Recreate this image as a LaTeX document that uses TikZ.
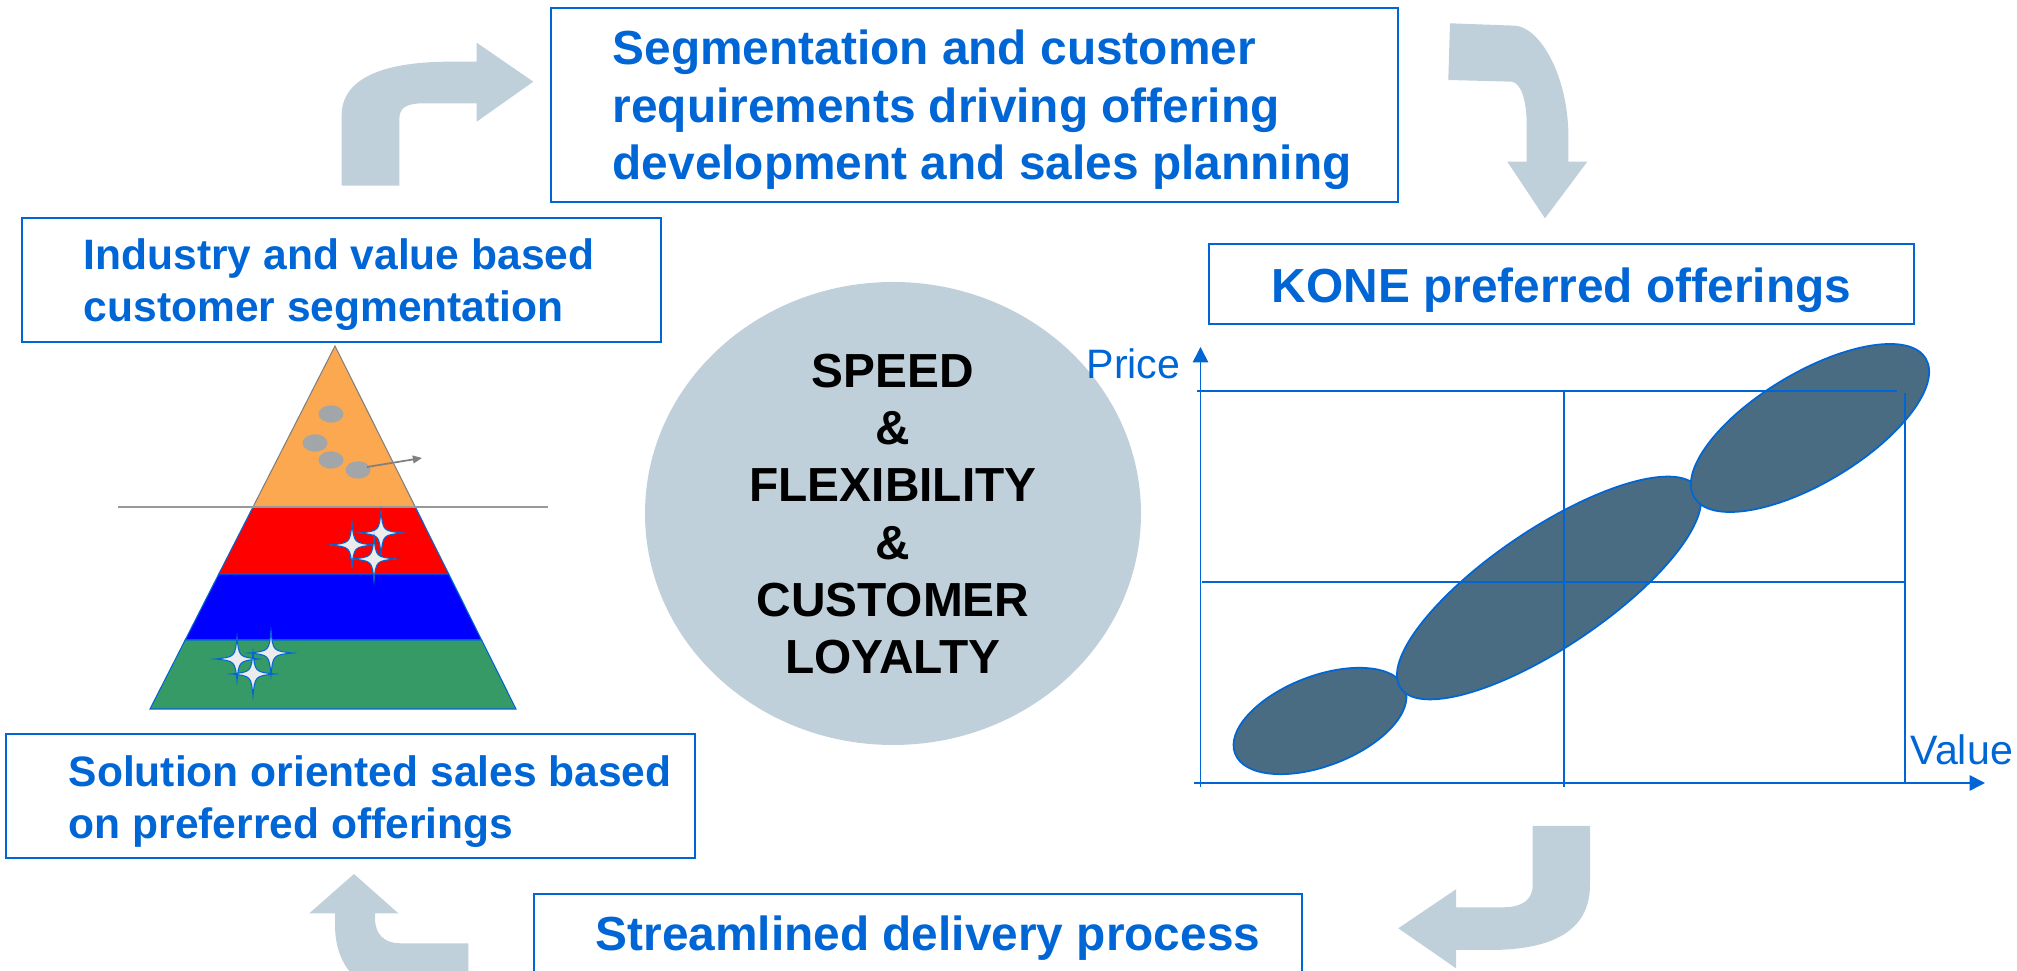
\documentclass[tikz,border=0pt]{standalone}
\usepackage{fontspec}
\setmainfont{Liberation Sans}
\usetikzlibrary{arrows.meta}

\definecolor{koneblue}{RGB}{0,102,214}
\definecolor{flowgray}{RGB}{191,208,219}
\definecolor{blobfill}{RGB}{74,108,130}
\definecolor{tierorange}{RGB}{251,168,80}
\definecolor{tiergreen}{RGB}{54,154,102}
\definecolor{dotgray}{RGB}{162,166,168}
\definecolor{sparkle}{RGB}{236,236,236}

\tikzset{
    frame/.style={draw=koneblue, line width=0.5pt},
    heading/.style={text=koneblue, inner sep=0pt, align=left,
        font=\fontsize{13.6}{16.3}\selectfont\bfseries},
    subheading/.style={text=koneblue, inner sep=0pt, align=left,
        font=\fontsize{12.1}{14.8}\selectfont\bfseries},
    axislabel/.style={text=koneblue, inner sep=0pt,
        font=\fontsize{11.7}{14}\selectfont},
    gridline/.style={draw=koneblue, line width=0.45pt},
    blob/.style={fill=blobfill, draw=koneblue, line width=0.5pt},
    turn/.style={fill=flowgray},
    band/.style={draw=koneblue, line width=0.3pt},
}

\begin{document}
\begin{tikzpicture}[x=0.01cm, y=-0.01cm]

            \useasboundingbox (0,0) rectangle (2017,971);
            \clip (0,0) rectangle (2017,971);

            \def\Rs{22};
            \def\Ytop{507};
            \def\Ybase{709};

            % turning arrows
            \fill[turn] (341.7,185.7) -- (341.7,115)
            .. controls (341.7,80) and (380,61.7) .. (450,61.7)
            -- (476.7,61.7) -- (476.7,42.7) -- (533.3,81.7) -- (476.7,121.7) -- (476.7,103.3)
            -- (425,103.3) .. controls (405,103.3) and (399.3,108) .. (399.3,120)
            -- (399.3,185.7) -- cycle;

            \fill[turn] (1450,23.3) -- (1515,25.7)
            .. controls (1538,27) and (1566,70) .. (1568.3,130)
            -- (1568.3,161.7) -- (1587.3,161.7) -- (1545,218.3) -- (1507.3,161.7) -- (1526.7,161.7)
            -- (1526.7,125) .. controls (1526.7,100) and (1521,83) .. (1511.7,81.7)
            -- (1448.3,80) -- cycle;

            \fill[turn] (1532.7,826) -- (1590,826) -- (1590,885)
            .. controls (1590,935) and (1545,950) .. (1490,950)
            -- (1456,950) -- (1456,968.3) -- (1398.3,928.3) -- (1456,889.3) -- (1456,907.3)
            -- (1503.3,907.3) .. controls (1522,907.3) and (1532.7,900) .. (1532.7,885)
            -- cycle;

            \fill[turn] (468.3,943.3) -- (400,943.3)
            .. controls (385,943.3) and (375,935) .. (375,918)
            -- (375,913.3) -- (398.3,913.3) -- (354,874) -- (309.3,913.3) -- (335,913.3)
            -- (335,925) .. controls (335,975) and (370,1000) .. (425,1000)
            -- (468.3,1000) -- cycle;

            % frames
            \draw[frame] (551,8) rectangle (1398,202);
            \draw[frame] (22,218) rectangle (661,342);
            \draw[frame] (1209,244) rectangle (1914,324);
            \draw[frame] (6,734) rectangle (695,858);
            \draw[frame] (534,894) rectangle (1302,1010);

            % centre
            \fill[flowgray] (893,513.5) ellipse (248 and 231.5);
            \node[align=center, inner sep=0pt, font=\fontsize{13.6}{16.3}\selectfont\bfseries]
                (motto) at (893,514) {SPEED\\\&\\FLEXIBILITY\\\&\\CUSTOMER\\LOYALTY};

            % pyramid
            \draw[fill=tierorange, draw=gray, line width=0.3pt] (335,346) -- (415.3,\Ytop) -- (253,\Ytop) -- cycle;
            \draw[band, fill=red] (253,\Ytop) -- (415.3,\Ytop) -- (448.7,574) -- (218.8,574) -- cycle;
            \draw[band, fill=blue] (218.8,574) -- (448.7,574) -- (481.6,640) -- (185.2,640) -- cycle;
            \draw[band, fill=tiergreen] (185.2,640) -- (481.6,640) -- (516,\Ybase) -- (150,\Ybase) -- cycle;
            \draw[gray!80, line width=0.5pt] (118,\Ytop) -- (548,\Ytop);

            % dots
            \foreach \dx/\dy in {331/414, 315/443, 331/460, 358/470}
                \fill[dotgray] (\dx,\dy) ellipse (12.5 and 8.7);
            \coordinate (lead) at (367,467);
            \coordinate (leadend) at (422,458);
            \draw[gray, line width=0.5pt, -{Triangle[length=2.6pt, width=2.2pt]}] (lead) -- (leadend);

            % sparkles
            \foreach \sx/\sy in {381/533, 352/545, 374/559, 271/653, 237/659, 253/674}
                \draw[fill=sparkle, draw=koneblue, line width=0.3pt, shift={(\sx,\sy)}]
                (0,-\Rs) .. controls (2,-2) .. (\Rs,0) .. controls (2,2) .. (0,\Rs)
                .. controls (-2,2) .. (-\Rs,0) .. controls (-2,-2) .. (0,-\Rs) -- cycle;

            % offerings chart
            \draw[blob, rotate around={21:(1320,721)}] (1320,721) ellipse (91 and 45);
            \draw[blob, rotate around={34:(1549,588)}] (1549,588) ellipse (179 and 59);
            \draw[blob, rotate around={31:(1810,428)}] (1810,428) ellipse (135 and 55);

            \draw[gridline] (1197,391) -- (1897,391);
            \draw[gridline] (1202,582) -- (1905,582);
            \draw[gridline] (1564,391) -- (1564,787);
            \draw[gridline] (1905,393) -- (1905,782);

            \coordinate (ybot) at (1200.5,787);
            \coordinate (ytop) at (1200.5,347);
            \coordinate (xleft) at (1194,783);
            \coordinate (xright) at (1985,783);
            \draw[gridline, -{Triangle[length=4.4pt, width=4.4pt]}] (ybot) -- (ytop);
            \draw[gridline, -{Triangle[length=4.4pt, width=4.4pt]}] (xleft) -- (xright);

            % labels
            \node[heading, anchor=west] (offering) at (612,110)
                {Segmentation and customer\\requirements driving offering\\development and sales planning};
            \node[subheading, anchor=west] (segment) at (83,285)
                {Industry and value based\\customer segmentation};
            \node[heading] (preferred) at (1561.5,290) {KONE preferred offerings};
            \node[subheading, anchor=west] (sales) at (68,802)
                {Solution oriented sales based\\on preferred offerings};
            \node[heading] (delivery) at (928,938) {Streamlined delivery process};
            \node[axislabel, anchor=east] (price) at (1181,364) {Price};
            \node[axislabel, anchor=west] (value) at (1910,750) {Value};
        \end{tikzpicture}
\end{document}
